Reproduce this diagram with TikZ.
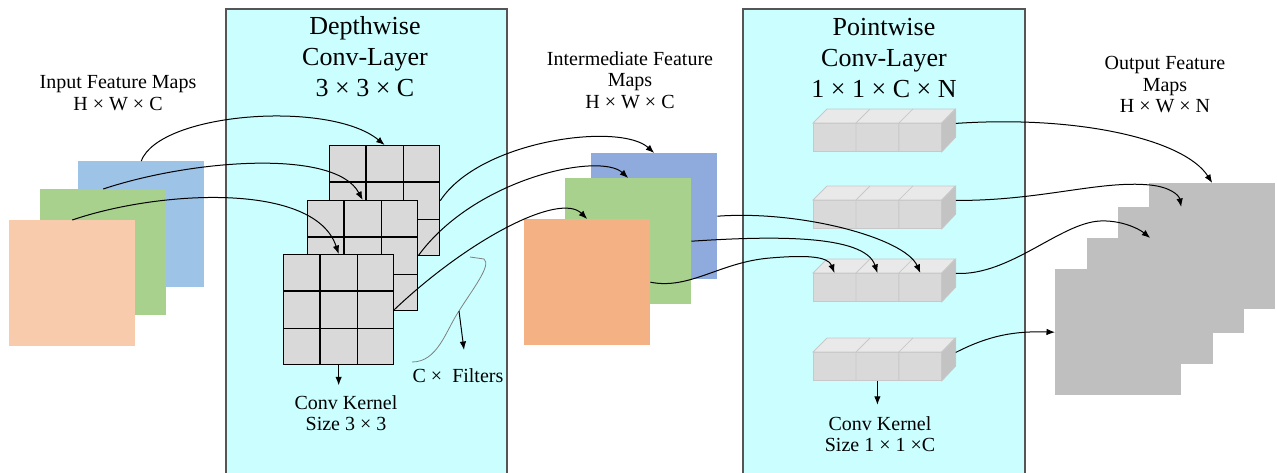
\documentclass[tikz,border=0pt]{standalone}
\usepackage{fontspec}
\setmainfont{Liberation Serif}
\usetikzlibrary{arrows.meta,calc}

\definecolor{layercyan}{HTML}{CBFFFF}
\definecolor{layeredge}{HTML}{555555}
\definecolor{mapblue}{HTML}{9DC3E6}
\definecolor{mapgreen}{HTML}{A9D18E}
\definecolor{mappeach}{HTML}{F8CBAD}
\definecolor{midblue}{HTML}{8FAADC}
\definecolor{midpeach}{HTML}{F4B183}
\definecolor{outgray}{HTML}{BFBFBF}
\definecolor{kernelgray}{HTML}{D9D9D9}
\definecolor{cubefrontc}{HTML}{D9D9D9}
\definecolor{cubetopc}{HTML}{E9E9E9}
\definecolor{cubesidec}{HTML}{C3C3C3}
\definecolor{cubeedge}{HTML}{C8C8C8}
\definecolor{bracegray}{HTML}{808080}

\begin{document}
\begin{tikzpicture}[x=1pt,y=-1pt,
  layerbox/.style={fill=layercyan,draw=layeredge,line width=1.2pt},
  fmap/.style={rectangle,inner sep=0pt,minimum width=126pt,minimum height=126pt,anchor=north west},
  kernel/.style={rectangle,draw=black,line width=1.3pt,fill=kernelgray,minimum size=110pt,inner sep=0pt,anchor=north west},
  gridline/.style={draw=black,line width=1.3pt},
  cubefront/.style={rectangle,fill=cubefrontc,draw=cubeedge,line width=0.8pt,minimum width=128pt,minimum height=28pt,inner sep=0pt,anchor=north west},
  cubeface/.style={draw=cubeedge,line width=0.8pt},
  lbl/.style={font=\fontsize{20}{21.5}\selectfont,align=center,inner sep=0pt},
  ttl/.style={font=\fontsize{26}{31}\selectfont,align=center,inner sep=0pt},
  conn/.style={-{Latex[length=8.5pt,width=6.5pt]},line width=1pt},
]
\clip (0,0) rectangle (1277,472);
\fill[white] (0,0) rectangle (1277,472);

% layer panels
\draw[layerbox] (226,9) rectangle (507,490);
\draw[layerbox] (743,9) rectangle (1025,490);

% titles and labels
\node[ttl] (dwtitle) at (365,57) {Depthwise\\Conv-Layer\\3 × 3 × C};
\node[ttl] (pwtitle) at (884,58) {Pointwise\\Conv-Layer\\1 × 1 × C × N};
\node[lbl] (inlbl) at (118,93) {Input Feature Maps\\H × W × C};
\node[lbl] (midlbl) at (630,80) {Intermediate Feature\\Maps\\H × W × C};
\node[lbl] (outlbl) at (1165,85) {Output Feature\\Maps\\H × W × N};

% input feature maps
\node[fmap,fill=mapblue] (inb) at (78,161) {};
\node[fmap,fill=mapgreen] (ing) at (40,189) {};
\node[fmap,fill=mappeach] (inp) at (9,220) {};

% depthwise kernels, 3x3 grids
\foreach \n/\x/\y in {kb/329/145, km/307/200, kf/283/254}{
  \node[kernel] (\n) at (\x,\y) {};
  \foreach \f in {1/3,2/3}{
    \draw[gridline] ($(\n.north west)!\f!(\n.north east)$) -- ($(\n.south west)!\f!(\n.south east)$);
    \draw[gridline] ($(\n.north west)!\f!(\n.south west)$) -- ($(\n.north east)!\f!(\n.south east)$);
  }
}

% intermediate feature maps
\node[fmap,fill=midblue] (ib) at (591,153) {};
\node[fmap,fill=mapgreen] (ig) at (565,178) {};
\node[fmap,fill=midpeach] (ip) at (524,219) {};

% pointwise kernels, 1x1xC bars
\foreach \n/\y in {r1/123, r2/200, r3/273, r4/352}{
  \node[cubefront] (\n) at (813,\y) {};
  \filldraw[cubeface,fill=cubetopc] (\n.north west) -- ++(14,-14) -- ++(128,0) -- (\n.north east) -- cycle;
  \filldraw[cubeface,fill=cubesidec] (\n.north east) -- ++(14,-14) -- ++(0,28) -- (\n.south east) -- cycle;
  \foreach \f in {1/3,2/3}{
    \draw[cubeface] ($(\n.south west)!\f!(\n.south east)$) -- ($(\n.north west)!\f!(\n.north east)$) -- ++(14,-14);
  }
}

% output feature maps
\node[fmap,fill=outgray] (ob) at (1149,183) {};
\node[fmap,fill=outgray] (o2) at (1118,207) {};
\node[fmap,fill=outgray] (o3) at (1087,238) {};
\node[fmap,fill=outgray] (o4) at (1055,269) {};

% input maps -> depthwise kernels
\draw[conn] (inb.north) .. controls (160,112) and (330,100) .. (kb.north);
\draw[conn] (ing.north) .. controls (190,160) and (335,148) .. (km.north);
\draw[conn] (inp.north) .. controls (160,190) and (315,182) .. (kf.north);

% depthwise kernels -> intermediate maps
\draw[conn] (kb.east) .. controls (480,140) and (620,122) .. (ib.north);
\draw[conn] (km.east) .. controls (475,178) and (600,152) .. (ig.north);
\draw[conn] (kf.east) .. controls (470,238) and (560,192) .. (ip.north);

% intermediate maps -> pointwise kernel cells
\coordinate (c1) at ($(r3.north west)!1/6!(r3.north east)$);
\coordinate (c2) at ($(r3.north west)!1/2!(r3.north east)$);
\coordinate (c3) at ($(r3.north west)!5/6!(r3.north east)$);
\draw[conn] (ib.east) .. controls (800,210) and (905,238) .. (c3);
\draw[conn] (ig.east) .. controls (770,236) and (865,234) .. (c2);
\draw[conn] (ip.east) .. controls (690,290) and (720,262) .. (770,258) .. controls (805,255) and (828,256) .. (c1);

% pointwise kernels -> output maps
\foreach \n in {r1,r2,r3,r4}{ \coordinate (\n s) at ($(\n.east)+(14,-14)$); }
\draw[conn] (r1s) .. controls (1080,115) and (1185,140) .. (ob.north);
\draw[conn] (r2s) .. controls (1040,201) and (1100,180) .. (1150,185) .. controls (1170,187) and (1179,195) .. (o2.north);
\draw[conn] (r3s) .. controls (1010,276) and (1060,223) .. (1100,221) .. controls (1120,220) and (1138,228) .. (o3.north);
\draw[conn] (r4s) .. controls (990,335) and (1015,331) .. (o4.west);

% kernel annotations
\coordinate (kfarrow) at ($(kf.south)+(0,20)$);
\draw[conn] (kf.south) -- (kfarrow);
\node[lbl] (kflbl) at (346,413) {Conv Kernel\\Size 3 × 3};

\coordinate (r4arrow) at ($(r4.south)+(0,24)$);
\draw[conn] (r4.south) -- (r4arrow);
\node[lbl] (r4lbl) at (880,434) {Conv Kernel\\Size 1 × 1 ×C};

% brace over the C filters
\coordinate (bracetip) at (459,311);
\draw[bracegray,line width=0.8pt] (412,362) .. controls (438,362) and (446,330) .. (bracetip)
  .. controls (472,290) and (492,265) .. (484,259) -- (470,257);
\coordinate (filtarrow) at (464,350);
\draw[conn] (bracetip) -- (filtarrow);
\node[lbl] (filtlbl) at (458,376) {C ×\ \ Filters};
\end{tikzpicture}
\end{document}
